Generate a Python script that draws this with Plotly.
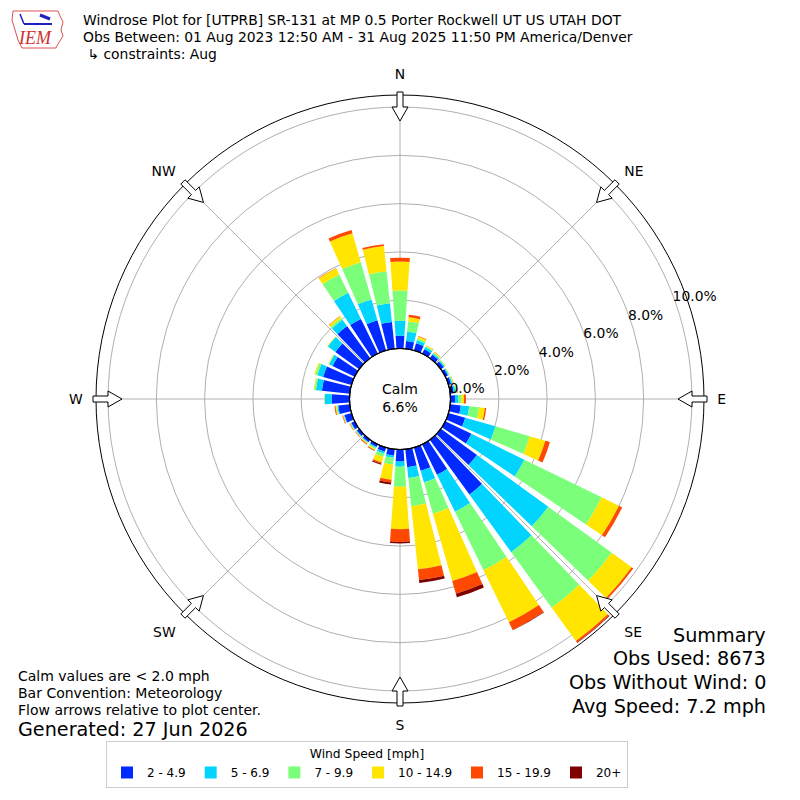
import math
import plotly.graph_objects as go

# ---------------- data ----------------
directions = list(range(0, 360, 10))
speed_bins = ["2 - 4.9", "5 - 6.9", "7 - 9.9", "10 - 14.9", "15 - 19.9", "20+"]
bin_colors = ["#002aff", "#00d4ff", "#7bff7b", "#ffe500", "#ff4800", "#800000"]

# frequency [%] per direction (0..350 by 10) for each speed bin
freq_2_5 = [0.53, 0.32, 0.31, 0.20, 0.18, 0.15, 0.12, 0.12, 0.15, 0.19, 0.44, 0.72,
            1.20, 1.85, 2.80, 1.40, 1.00, 0.75, 0.50, 0.27, 0.18, 0.12, 0.12, 0.12,
            0.15, 0.30, 0.48, 0.74, 1.16, 1.22, 1.02, 1.22, 1.64, 1.60, 1.30, 1.12]
freq_5_7 = [0.62, 0.40, 0.13, 0.10, 0.06, 0.05, 0.04, 0.05, 0.07, 0.13, 0.35, 1.30,
            2.44, 3.65, 2.95, 1.70, 0.50, 0.45, 0.21, 0.09, 0.09, 0.05, 0.03, 0.03,
            0.03, 0.03, 0.04, 0.28, 0.25, 0.25, 0.16, 0.38, 0.33, 1.20, 0.90, 0.78]
freq_7_10 = [1.25, 0.42, 0.08, 0.05, 0.04, 0.03, 0.03, 0.03, 0.05, 0.14, 0.41, 1.48,
             3.56, 3.25, 2.85, 2.70, 1.35, 1.17, 0.83, 0.28, 0.13, 0.05, 0.03, 0.02,
             0.02, 0.02, 0.04, 0.02, 0.06, 0.09, 0.02, 0.02, 0.08, 0.85, 1.60, 1.33]
freq_10_15 = [1.20, 0.17, 0.08, 0.03, 0.04, 0.02, 0.01, 0.02, 0.03, 0.10, 0.24, 0.67,
              0.80, 1.02, 1.70, 2.40, 2.90, 2.63, 1.76, 0.63, 0.24, 0.05, 0.03, 0.02,
              0.02, 0.02, 0.04, 0.01, 0.03, 0.04, 0.02, 0.02, 0.09, 0.28, 1.25, 1.05]
freq_15_20 = [0.16, 0.11, 0.02, 0.01, 0.01, 0.00, 0.00, 0.01, 0.02, 0.08, 0.06, 0.20,
              0.15, 0.08, 0.08, 0.35, 0.55, 0.45, 0.53, 0.12, 0.06, 0.03, 0.04, 0.02,
              0.02, 0.03, 0.04, 0.00, 0.00, 0.00, 0.00, 0.00, 0.02, 0.02, 0.14, 0.07]
freq_20p = [0.00, 0.00, 0.00, 0.00, 0.00, 0.00, 0.00, 0.00, 0.00, 0.00, 0.00, 0.00,
            0.00, 0.00, 0.02, 0.02, 0.15, 0.12, 0.06, 0.08, 0.04, 0.01, 0.00, 0.00,
            0.00, 0.00, 0.00, 0.00, 0.00, 0.00, 0.00, 0.00, 0.00, 0.00, 0.00, 0.00]
series = [freq_2_5, freq_5_7, freq_7_10, freq_10_15, freq_15_20, freq_20p]

radial_ticks = [0, 2, 4, 6, 8, 10]
radial_labels = ["0.0%", "2.0%", "4.0%", "6.0%", "8.0%", "10.0%"]
compass_angles = [0, 45, 90, 135, 180, 225, 270, 315]
compass_labels = ["N", "NE", "E", "SE", "S", "SW", "W", "NW"]

calm_pct = "6.6%"
title_lines = ["Windrose Plot for [UTPRB] SR-131 at MP 0.5 Porter Rockwell UT US UTAH DOT",
               "Obs Between: 01 Aug 2023 12:50 AM - 31 Aug 2025 11:50 PM America/Denver",
               " \u21b3 constraints: Aug"]
notes = ["Calm values are < 2.0 mph", "Bar Convention: Meteorology",
         "Flow arrows relative to plot center."]
generated = "Generated: 27 Jun 2026"
summary = ["Summary", "Obs Used: 8673", "Obs Without Wind: 0", "Avg Speed: 7.2 mph"]

# ---------------- layout geometry ----------------
W = H = 800
CX, CY = 400.0, 399.0
R_OUT = 304.0
R_CALM = 50.5
RMAX = 10.5
FONT = "DejaVu Sans"


def px(x):
    return x / W


def py(y):
    return 1 - y / H


fig = go.Figure()
for name, vals, col in zip(speed_bins, series, bin_colors):
    fig.add_trace(go.Barpolar(r=vals, theta=directions, width=8, name=name,
                              marker=dict(color=col, line=dict(width=0))))

shapes = []
# calm circle outline
shapes.append(dict(type="circle", xref="paper", yref="paper",
                   x0=px(CX - R_CALM), x1=px(CX + R_CALM),
                   y0=py(CY + R_CALM), y1=py(CY - R_CALM),
                   line=dict(color="black", width=1.2), fillcolor="rgba(0,0,0,0)"))

# hollow flow arrows pointing toward the center
for ang in compass_angles:
    a = math.radians(ang)
    ux, uy = math.sin(a), -math.cos(a)      # outward unit (screen)
    vx, vy = -uy, ux                        # perpendicular

    def P(r, w):
        return (CX + ux * r + vx * w, CY + uy * r + vy * w)
    pts = [P(307, -3), P(292, -3), P(292, -8), P(278, 0), P(292, 8), P(292, 3), P(307, 3)]
    path = "M " + " L ".join(f"{px(x):.5f},{py(y):.5f}" for x, y in pts) + " Z"
    shapes.append(dict(type="path", xref="paper", yref="paper", path=path,
                       line=dict(color="black", width=1), fillcolor="white"))

# simple IEM logo outline
logo = [(13, 11), (58, 11), (60, 16), (63, 22), (61, 30), (63, 36), (58, 44), (56, 48),
        (22, 48), (18, 40), (15, 30), (12, 20)]
shapes.append(dict(type="path", xref="paper", yref="paper",
                   path="M " + " L ".join(f"{px(x):.5f},{py(y):.5f}" for x, y in logo) + " Z",
                   line=dict(color="#e05050", width=1), fillcolor="rgba(0,0,0,0)"))
shapes.append(dict(type="line", xref="paper", yref="paper", x0=px(24), x1=px(52), y0=py(24), y1=py(24),
                   line=dict(color="#2020c0", width=2)))
shapes.append(dict(type="line", xref="paper", yref="paper", x0=px(40), x1=px(50), y0=py(15), y1=py(19),
                   line=dict(color="#2020c0", width=3)))
shapes.append(dict(type="line", xref="paper", yref="paper", x0=px(20), x1=px(24), y0=py(14), y1=py(24),
                   line=dict(color="#2020c0", width=1.5)))

annotations = []
for i, t in enumerate(title_lines):
    annotations.append(dict(text=t, x=px(81), y=py(20 + 17 * i), xref="paper", yref="paper",
                            xanchor="left", yanchor="middle", showarrow=False,
                            font=dict(family=FONT, size=13.9, color="black")))
annotations.append(dict(text="<i>IEM</i>", x=px(35), y=py(38), xref="paper", yref="paper",
                        xanchor="center", yanchor="middle", showarrow=False,
                        font=dict(family="Liberation Serif", size=18, color="#d03030")))
annotations.append(dict(text="Calm<br>" + calm_pct, x=px(CX), y=py(CY - 1), xref="paper", yref="paper",
                        xanchor="center", yanchor="middle", showarrow=False,
                        font=dict(family=FONT, size=14, color="black")))
for i, t in enumerate(notes):
    annotations.append(dict(text=t, x=px(16), y=py(676 + 17 * i), xref="paper", yref="paper",
                            xanchor="left", yanchor="middle", showarrow=False,
                            font=dict(family=FONT, size=14, color="black")))
annotations.append(dict(text=generated, x=px(16), y=py(729), xref="paper", yref="paper",
                        xanchor="left", yanchor="middle", showarrow=False,
                        font=dict(family=FONT, size=19.2, color="black")))
for i, t in enumerate(summary):
    annotations.append(dict(text=t, x=px(768), y=py(635 + 23.7 * i), xref="paper", yref="paper",
                            xanchor="right", yanchor="middle", showarrow=False,
                            font=dict(family=FONT, size=19.2, color="black")))

fig.update_layout(
    width=W, height=H, margin=dict(l=0, r=0, t=0, b=0),
    paper_bgcolor="white", plot_bgcolor="white",
    font=dict(family=FONT, size=13, color="black"),
    showlegend=True,
    legend=dict(orientation="h", x=px(106), y=py(741), xanchor="left", yanchor="top",
                bordercolor="#cccccc", borderwidth=1, bgcolor="white",
                font=dict(family=FONT, size=12),
                itemwidth=30,
                title=dict(text="Wind Speed [mph]", side="top center",
                           font=dict(family=FONT, size=12.3)),
                traceorder="normal", itemsizing="constant"),
    polar=dict(
        domain=dict(x=[px(CX - R_OUT), px(CX + R_OUT)], y=[py(CY + R_OUT), py(CY - R_OUT)]),
        hole=R_CALM / R_OUT,
        bgcolor="white",
        barmode="stack",
        radialaxis=dict(range=[0, RMAX], tickvals=radial_ticks, ticktext=radial_labels,
                        angle=22.5, tickangle=22.5, side="clockwise",
                        showline=False, ticks="",
                        gridcolor="#b0b0b0", gridwidth=1,
                        tickfont=dict(family=FONT, size=13.9, color="black")),
        angularaxis=dict(direction="clockwise", rotation=90,
                         tickvals=compass_angles, ticktext=compass_labels,
                         showline=True, linecolor="black", linewidth=1,
                         gridcolor="#b0b0b0", gridwidth=1,
                         ticks="outside", ticklen=10, tickcolor="rgba(0,0,0,0)",
                         tickfont=dict(family=FONT, size=13.9, color="black")),
    ),
    shapes=shapes,
    annotations=annotations,
)

fig.write_html("out.html", config={"displayModeBar": False},
               post_script="document.body.style.margin='0px';")
